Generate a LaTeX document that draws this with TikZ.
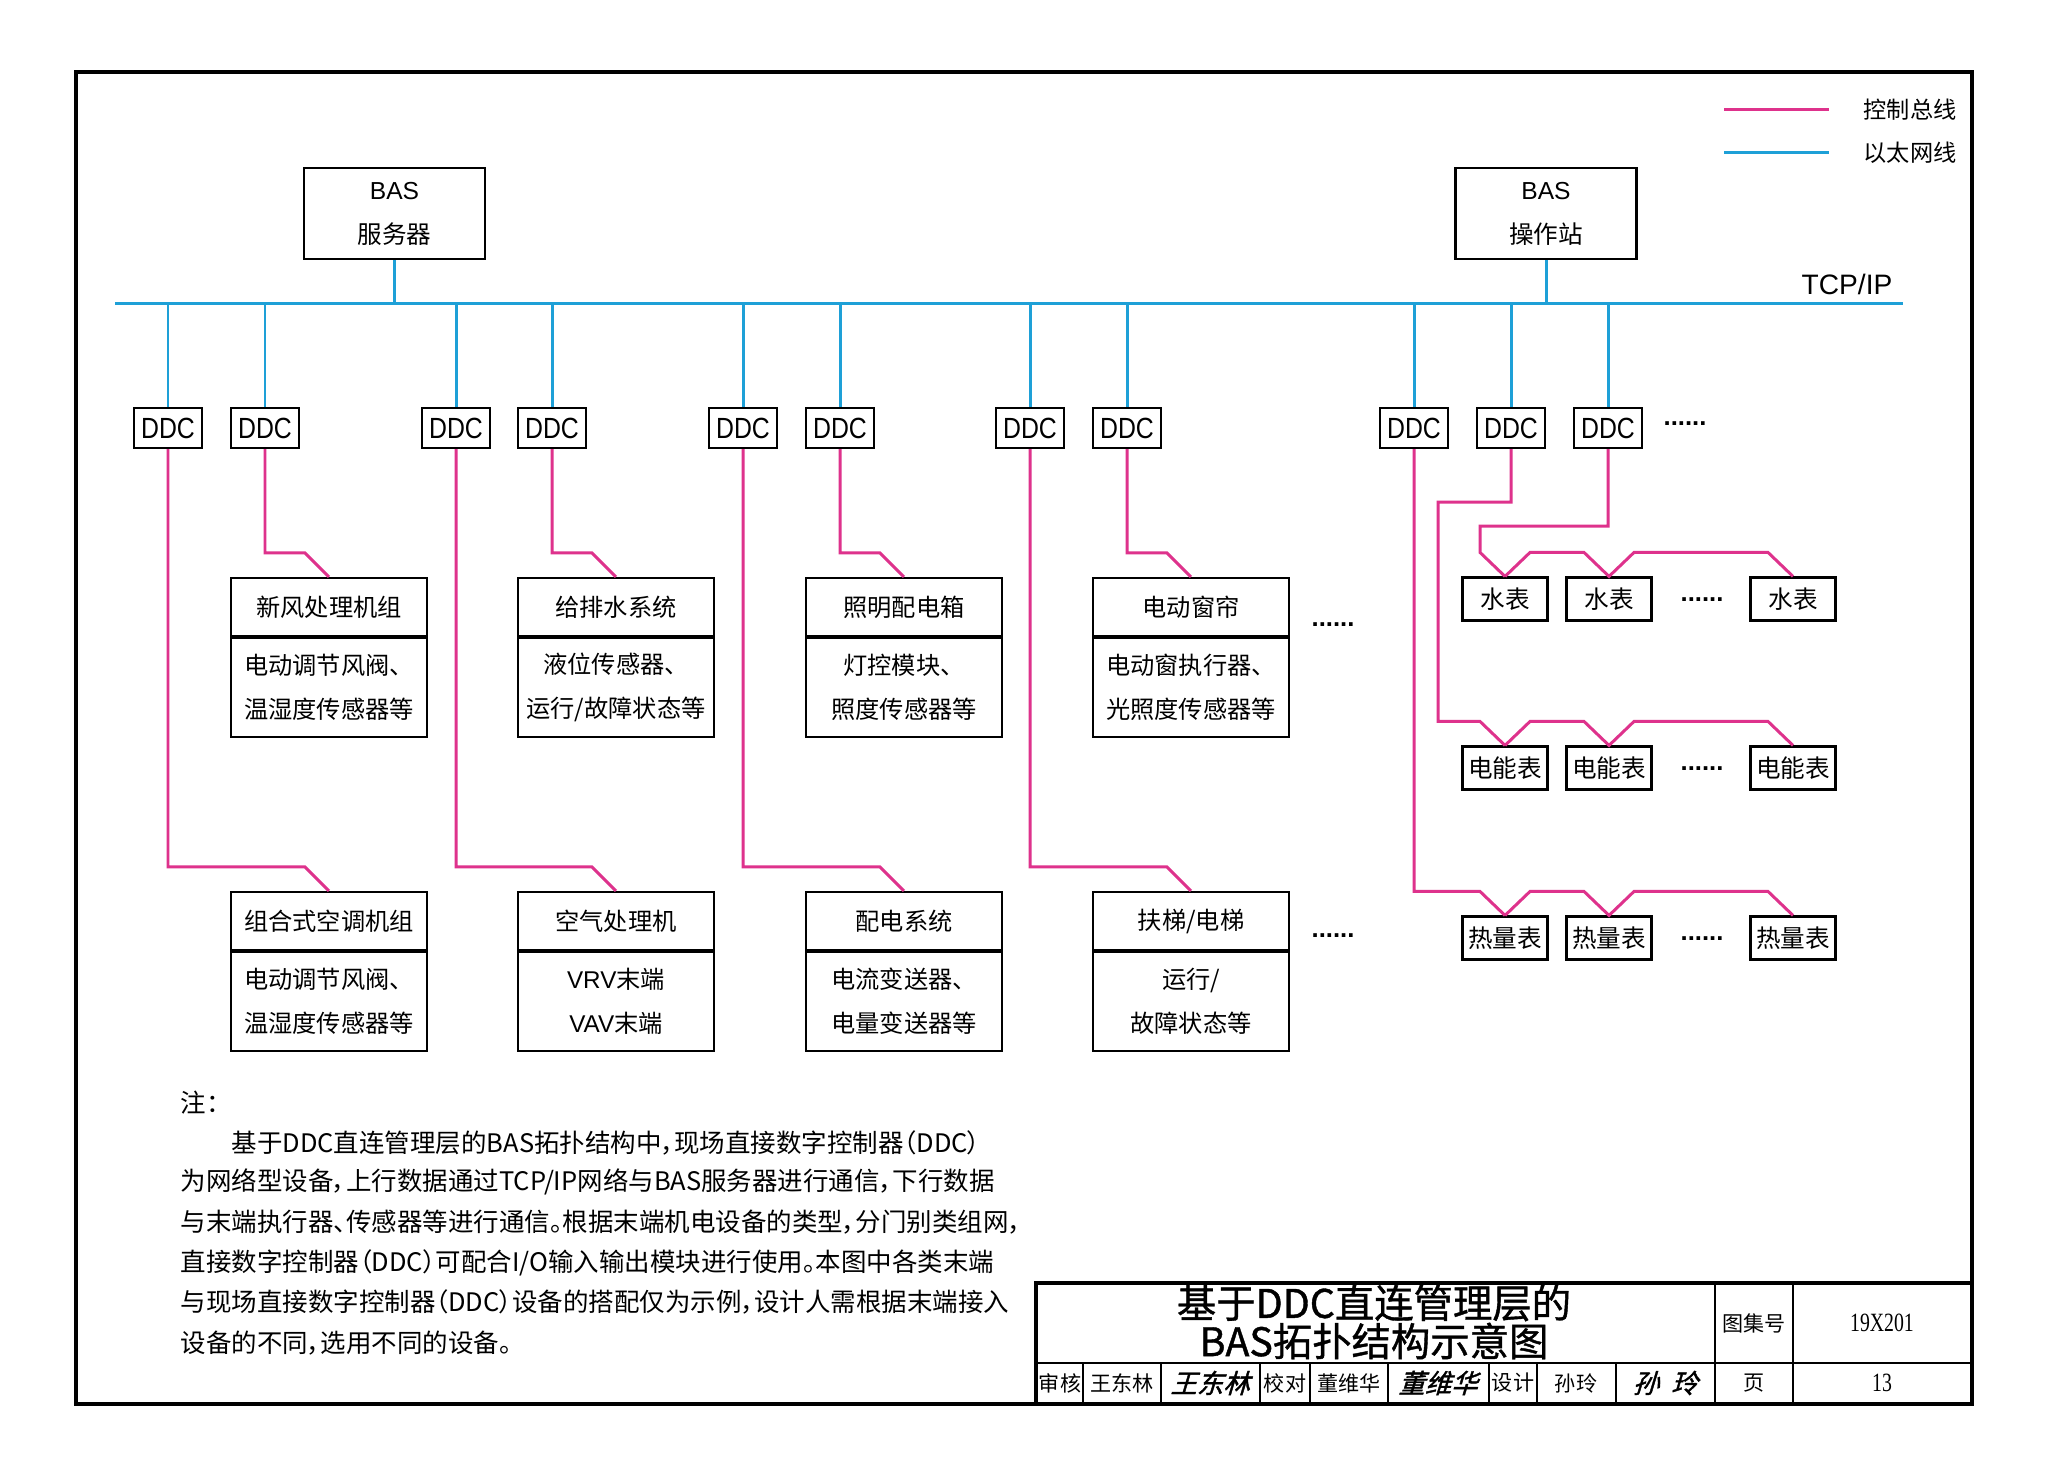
\documentclass[tikz,border=0pt]{standalone}
\usepackage{fontspec}
\setmainfont{Noto Sans CJK SC}
\newfontfamily\latinfont{Liberation Sans}
\newfontfamily\ddcfont[FakeStretch=0.85]{Liberation Sans}
\newfontfamily\notefont[RawFeature=+palt]{Noto Sans CJK SC}
\newfontfamily\titlefont[FakeBold=1]{Noto Sans CJK SC}
\newfontfamily\signfont[FakeSlant=0.3,FakeBold=1.5]{Noto Sans CJK SC}
\newfontfamily\numfont[FakeStretch=0.75]{Liberation Serif}
\usetikzlibrary{positioning,calc}
\definecolor{netblue}{RGB}{30,160,215}
\definecolor{busred}{RGB}{222,50,140}

\tikzset{
  netline/.style={draw=netblue, line width=0.85pt},
  busline/.style={draw=busred, line width=0.85pt},
  ddcbox/.style={draw, line width=0.6pt, minimum width=6.8mm, minimum height=4mm, inner sep=0pt,
    font=\ddcfont\fontsize{8.3}{9}\selectfont},
  basbox/.style={draw, line width=0.6pt, minimum width=18.1mm, minimum height=9.1mm, inner sep=0pt,
    align=center, font=\fontsize{7}{12.5}\selectfont},
  devhead/.style={draw, line width=0.6pt, minimum width=19.6mm, minimum height=5.8mm, inner sep=0pt,
    font=\fontsize{6.9}{8}\selectfont},
  devbody/.style={draw, line width=0.6pt, minimum width=19.6mm, minimum height=9.9mm, inner sep=0pt,
    align=center, font=\fontsize{6.9}{12.5}\selectfont},
  meter/.style={draw, line width=0.6pt, minimum width=8.5mm, minimum height=4.3mm, inner sep=0pt,
    font=\fontsize{7}{8}\selectfont},
  dots/.style={inner sep=0pt, font=\latinfont\bfseries\fontsize{7.3}{8}\selectfont},
  noteline/.style={anchor=west, inner sep=0pt, font=\notefont\fontsize{7.25}{9}\selectfont},
  cell/.style={inner sep=0pt, font=\fontsize{6}{7}\selectfont},
}

\begin{document}
\begin{tikzpicture}[x=0.1mm, y=-0.1mm]
  \fill[white] (0,0) rectangle (2048,1475);
  \draw[line width=1.4pt] (76,72) rectangle (1972,1404);

  % legend
  \coordinate (lgA) at (1724,110);
  \coordinate (lgB) at (1829,110);
  \coordinate (lgC) at (1724,153);
  \coordinate (lgD) at (1829,153);
  \draw[busline] (lgA) -- (lgB);
  \draw[netline] (lgC) -- (lgD);
  \node[font=\fontsize{6.6}{7}\selectfont] (lgbus) at (1910,110) {控制总线};
  \node[font=\fontsize{6.6}{7}\selectfont] (lgnet) at (1910,153) {以太网线};

  % BAS level and TCP/IP bus
  \node[basbox] (srv) at (394.5,213.5) {{\latinfont BAS}\\服务器};
  \node[basbox] (ops) at (1546,213.5) {{\latinfont BAS}\\操作站};
  \coordinate (busL) at (115,304);
  \coordinate (busR) at (1903,304);
  \draw[netline] (busL) -- (busR);
  \node[font=\latinfont\fontsize{8}{9}\selectfont] (tcp) at (1847,284) {TCP/IP};
  \draw[netline] (srv.south) -- (srv.south |- busL);
  \draw[netline] (ops.south) -- (ops.south |- busL);

  % DDC controllers
  \node[ddcbox] (d1) at (168,428) {DDC};
  \node[ddcbox] (d2) at (265,428) {DDC};
  \node[ddcbox] (d3) at (456,428) {DDC};
  \node[ddcbox] (d4) at (552,428) {DDC};
  \node[ddcbox] (d5) at (743,428) {DDC};
  \node[ddcbox] (d6) at (840,428) {DDC};
  \node[ddcbox] (d7) at (1030,428) {DDC};
  \node[ddcbox] (d8) at (1127,428) {DDC};
  \node[ddcbox] (d9) at (1414,428) {DDC};
  \node[ddcbox] (d10) at (1511,428) {DDC};
  \node[ddcbox] (d11) at (1608,428) {DDC};
  \node[dots] (ddcmore) at (1685,424) {......};
  \draw[netline] (d1.north) -- (d1.north |- busL);
  \draw[netline] (d2.north) -- (d2.north |- busL);
  \draw[netline] (d3.north) -- (d3.north |- busL);
  \draw[netline] (d4.north) -- (d4.north |- busL);
  \draw[netline] (d5.north) -- (d5.north |- busL);
  \draw[netline] (d6.north) -- (d6.north |- busL);
  \draw[netline] (d7.north) -- (d7.north |- busL);
  \draw[netline] (d8.north) -- (d8.north |- busL);
  \draw[netline] (d9.north) -- (d9.north |- busL);
  \draw[netline] (d10.north) -- (d10.north |- busL);
  \draw[netline] (d11.north) -- (d11.north |- busL);

  % field equipment, upper row
  \node[devhead] (h1) at (329,607) {新风处理机组};
  \node[devbody, below=0pt of h1] (b1) {电动调节风阀、\\温湿度传感器等};
  \node[devhead] (h2) at (616,607) {给排水系统};
  \node[devbody, below=0pt of h2] (b2) {液位传感器、\\运行/故障状态等};
  \node[devhead] (h3) at (904,607) {照明配电箱};
  \node[devbody, below=0pt of h3] (b3) {灯控模块、\\照度传感器等};
  \node[devhead] (h4) at (1191,607) {电动窗帘};
  \node[devbody, below=0pt of h4] (b4) {电动窗执行器、\\光照度传感器等};
  \node[dots] (upmore) at (1333,625) {......};

  % field equipment, lower row
  \node[devhead] (h5) at (329,921) {组合式空调机组};
  \node[devbody, below=0pt of h5] (b5) {电动调节风阀、\\温湿度传感器等};
  \node[devhead] (h6) at (616,921) {空气处理机};
  \node[devbody, below=0pt of h6] (b6) {{\latinfont VRV}末端\\{\latinfont VAV}末端};
  \node[devhead] (h7) at (904,921) {配电系统};
  \node[devbody, below=0pt of h7] (b7) {电流变送器、\\电量变送器等};
  \node[devhead] (h8) at (1191,921) {扶梯/电梯};
  \node[devbody, below=0pt of h8] (b8) {运行/\\故障状态等};
  \node[dots] (lowmore) at (1333,936) {......};

  \draw[busline] (d2.south) |- ($(h1.north)+(-24,-24)$) -- (h1.north);
  \draw[busline] (d4.south) |- ($(h2.north)+(-24,-24)$) -- (h2.north);
  \draw[busline] (d6.south) |- ($(h3.north)+(-24,-24)$) -- (h3.north);
  \draw[busline] (d8.south) |- ($(h4.north)+(-24,-24)$) -- (h4.north);
  \draw[busline] (d1.south) |- ($(h5.north)+(-24,-24)$) -- (h5.north);
  \draw[busline] (d3.south) |- ($(h6.north)+(-24,-24)$) -- (h6.north);
  \draw[busline] (d5.south) |- ($(h7.north)+(-24,-24)$) -- (h7.north);
  \draw[busline] (d7.south) |- ($(h8.north)+(-24,-24)$) -- (h8.north);

  % meters
  \node[meter] (w1) at (1505,599) {水表};
  \node[meter] (w2) at (1609,599) {水表};
  \node[meter] (w3) at (1793,599) {水表};
  \node[dots] (wmore) at (1702,600) {......};
  \node[meter] (e1) at (1505,768) {电能表};
  \node[meter] (e2) at (1609,768) {电能表};
  \node[meter] (e3) at (1793,768) {电能表};
  \node[dots] (emore) at (1702,769) {......};
  \node[meter] (q1) at (1505,938) {热量表};
  \node[meter] (q2) at (1609,938) {热量表};
  \node[meter] (q3) at (1793,938) {热量表};
  \node[dots] (qmore) at (1702,939) {......};

  \draw[busline] (d11.south) -- ++(0,77) -| ($(w1.north)+(-25,-24)$) -- (w1.north);
  \draw[busline] (d10.south) -- ++(0,53) -| ($(e1.north)+(-67,-24)$) -- ($(e1.north)+(-25,-24)$) -- (e1.north);
  \draw[busline] (d9.south) |- ($(q1.north)+(-25,-24)$) -- (q1.north);
  \draw[busline] (w1.north) -- ++(25,-24) -- ($(w2.north)+(-25,-24)$) -- (w2.north)
    -- ++(25,-24) -- ($(w3.north)+(-25,-24)$) -- (w3.north);
  \draw[busline] (e1.north) -- ++(25,-24) -- ($(e2.north)+(-25,-24)$) -- (e2.north)
    -- ++(25,-24) -- ($(e3.north)+(-25,-24)$) -- (e3.north);
  \draw[busline] (q1.north) -- ++(25,-24) -- ($(q2.north)+(-25,-24)$) -- (q2.north)
    -- ++(25,-24) -- ($(q3.north)+(-25,-24)$) -- (q3.north);

  % notes
  \node[noteline] (n0) at (180,1103) {注：};
  \node[noteline] (n1) at (231,1143) {基于DDC直连管理层的BAS拓扑结构中，现场直接数字控制器（DDC）};
  \node[noteline] (n2) at (180,1182) {为网络型设备，上行数据通过TCP/IP网络与BAS服务器进行通信，下行数据};
  \node[noteline] (n3) at (180,1222) {与末端执行器、传感器等进行通信。根据末端机电设备的类型，分门别类组网，};
  \node[noteline] (n4) at (180,1263) {直接数字控制器（DDC）可配合I/O输入输出模块进行使用。本图中各类末端};
  \node[noteline] (n5) at (180,1302) {与现场直接数字控制器（DDC）设备的搭配仅为示例，设计人需根据末端接入};
  \node[noteline] (n6) at (180,1343) {设备的不同，选用不同的设备。};

  % title block
  \draw[line width=1pt] (1036,1404) -- (1036,1283) -- (1972,1283);
  \draw[line width=0.6pt] (1036,1363) -- (1972,1363);
  \draw[line width=0.6pt] (1715,1283) -- (1715,1404);
  \draw[line width=0.6pt] (1793,1283) -- (1793,1404);
  \draw[line width=0.6pt] (1083,1363) -- (1083,1404);
  \draw[line width=0.6pt] (1161,1363) -- (1161,1404);
  \draw[line width=0.6pt] (1260,1363) -- (1260,1404);
  \draw[line width=0.6pt] (1310,1363) -- (1310,1404);
  \draw[line width=0.6pt] (1388,1363) -- (1388,1404);
  \draw[line width=0.6pt] (1489,1363) -- (1489,1404);
  \draw[line width=0.6pt] (1537,1363) -- (1537,1404);
  \draw[line width=0.6pt] (1616,1363) -- (1616,1404);
  \node[font=\titlefont\fontsize{11.2}{12}\selectfont, inner sep=0pt] (title1) at (1374,1303) {基于DDC直连管理层的};
  \node[font=\titlefont\fontsize{11.2}{12}\selectfont, inner sep=0pt] (title2) at (1374,1341) {BAS拓扑结构示意图};
  \node[cell] (atlas) at (1754,1323) {图集号};
  \node[cell, font=\numfont\fontsize{7.5}{8}\selectfont] (atlasno) at (1882,1323) {19X201};
  \node[cell] (page) at (1754,1383) {页};
  \node[cell, font=\numfont\fontsize{7.5}{8}\selectfont] (pageno) at (1882,1383) {13};
  \node[cell] (chk) at (1060,1383) {审核};
  \node[cell] (chkname) at (1122,1383) {王东林};
  \node[cell, font=\signfont\fontsize{7.5}{8}\selectfont] (chksign) at (1210,1383) {王东林};
  \node[cell] (rev) at (1285,1383) {校对};
  \node[cell] (revname) at (1349,1383) {董维华};
  \node[cell, font=\signfont\fontsize{7.5}{8}\selectfont] (revsign) at (1438,1383) {董维华};
  \node[cell] (des) at (1513,1383) {设计};
  \node[cell] (desname) at (1576,1383) {孙玲};
  \node[cell, font=\signfont\fontsize{7.5}{8}\selectfont] (dessign) at (1665,1383) {孙\hspace{1.2mm}玲};
\end{tikzpicture}
\end{document}
